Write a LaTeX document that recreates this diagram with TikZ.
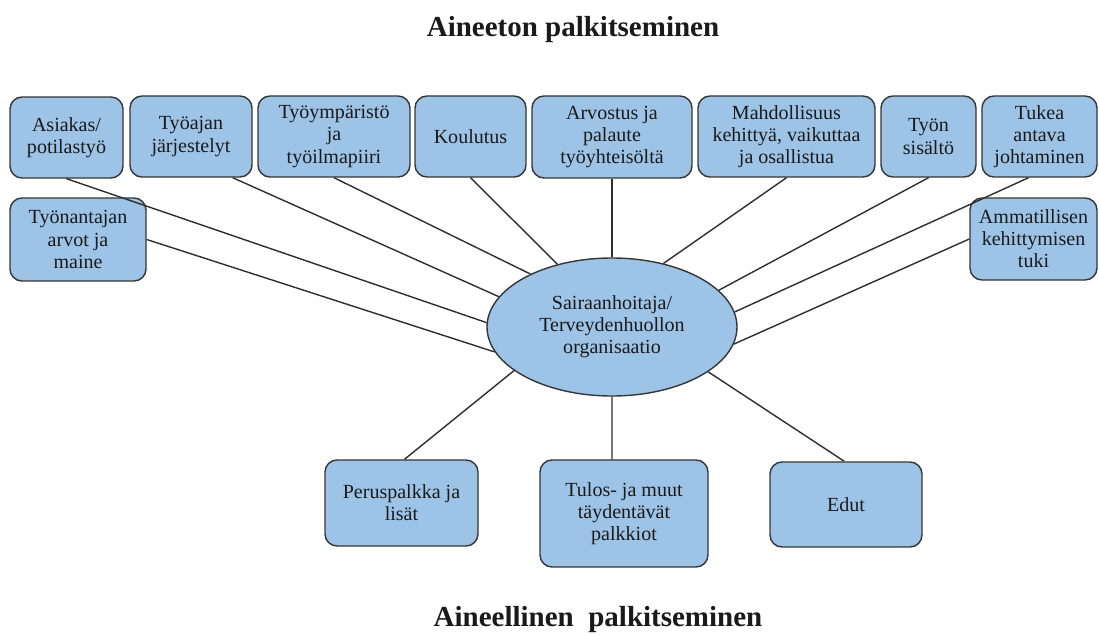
\documentclass[tikz,border=0pt]{standalone}
\usepackage{fontspec}
\setmainfont{Liberation Serif}
\usetikzlibrary{shapes.geometric}
\definecolor{boxfill}{HTML}{9DC3E6}
\definecolor{boxline}{HTML}{363636}
\definecolor{txt}{HTML}{1A1A1A}
\definecolor{linkcol}{HTML}{2E2E2E}
\tikzset{
  box/.style={draw=boxline, fill=boxfill, line width=0.8pt, rounded corners=0.24cm,
    align=center, inner sep=0pt, text=txt, font=\fontsize{11.4}{12.6}\selectfont},
  org/.style={ellipse, draw=boxline, fill=boxfill, line width=0.8pt, inner sep=0pt,
    align=center, text=txt, font=\fontsize{11.4}{12.6}\selectfont},
  link/.style={draw=linkcol, line width=0.8pt},
  titletext/.style={text=txt, font=\fontsize{16.5}{19}\selectfont\bfseries}
}
\newcommand\boxnode[6]{\node[box, minimum width={(#4-#2)*0.02cm}, minimum height={(#5-#3)*0.02cm}] (#1) at ({(#2+#4)/2},{(#3+#5)/2}) {#6};}
\begin{document}
\begin{tikzpicture}[x=0.02cm, y=-0.02cm]
\useasboundingbox (0,0) rectangle (1099,635);
\node[titletext] (t1) at (573,30) {Aineeton palkitseminen};
\node[titletext] (t2) at (598,620) {Aineellinen\hspace{0.5em}palkitseminen};
\node[org, minimum width=250*0.02cm, minimum height=138*0.02cm] (e) at (612,327) {Sairaanhoitaja/\\Terveydenhuollon\\organisaatio};
\boxnode{asiakas}{10}{97}{123}{178}{Asiakas/\\potilastyö}
\boxnode{tyoajan}{130}{96}{252}{177}{Työajan\\järjestelyt}
\boxnode{tyoymp}{258}{96}{410}{177}{Työympäristö\\ja\\työilmapiiri}
\boxnode{koulutus}{415}{96}{526}{177}{Koulutus}
\boxnode{arvostus}{532}{96}{692}{178}{Arvostus ja\\palaute\\työyhteisöltä}
\boxnode{mahd}{698}{96}{875}{177}{Mahdollisuus\\kehittyä, vaikuttaa\\ja osallistua}
\boxnode{tyon}{881}{96}{976}{177}{Työn\\sisältö}
\boxnode{tukea}{982}{96}{1097}{177}{Tukea\\antava\\johtaminen}
\boxnode{tyonant}{10}{198}{146}{281}{Työnantajan\\arvot ja\\maine}
\boxnode{ammat}{970}{198}{1097}{280}{Ammatillisen\\kehittymisen\\tuki}
\boxnode{perus}{325}{460}{478}{546}{Peruspalkka ja\\lisät}
\boxnode{tulos}{540}{460}{708}{567}{Tulos- ja muut\\täydentävät\\palkkiot}
\boxnode{edut}{770}{462}{922}{547}{Edut}
\draw[link] (asiakas.south) -- (e.178);
\draw[link] ([xshift=-0.4cm]tyoajan.south east) -- (e.165.7);
\draw[link] (tyoymp.south) -- (e.147);
\draw[link] (koulutus.south) -- (e.131);
\draw[link] (arvostus.south) -- (e.90);
\draw[link] (mahd.south) -- (e.51.6);
\draw[link] (tyon.south) -- (e.19);
\draw[link] ([xshift=-0.22cm]tukea.south) -- (e.7.5);
\draw[link] (tyonant.east) -- (e.192.7);
\draw[link] (ammat.west) -- (e.-8);
\draw[link] ([xshift=0.06cm]perus.north) -- (e.204.8);
\draw[link] ([xshift=-0.24cm]tulos.north) -- (e.270);
\draw[link] ([xshift=1.5cm]edut.north west) -- (e.-25);
\end{tikzpicture}
\end{document}
